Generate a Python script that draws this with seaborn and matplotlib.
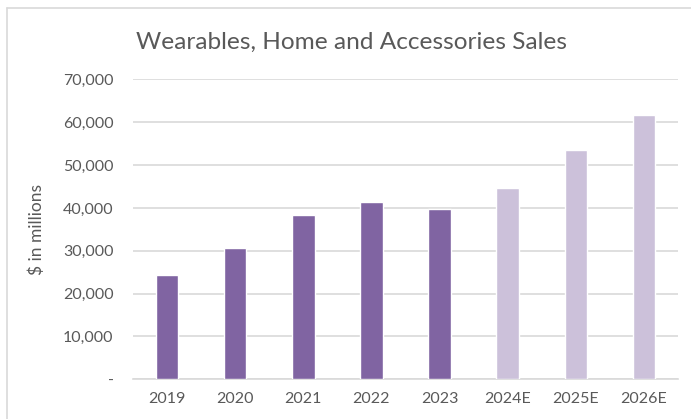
import matplotlib
matplotlib.use("Agg")
import matplotlib.pyplot as plt
import matplotlib.ticker as mticker
from matplotlib.lines import Line2D
import seaborn as sns
import pandas as pd

years = ["2019", "2020", "2021", "2022", "2023", "2024E", "2025E", "2026E"]
sales = [24400, 30700, 38300, 41400, 39800, 44700, 53600, 61800]
kind = ["Actual", "Actual", "Actual", "Actual", "Actual", "Estimate", "Estimate", "Estimate"]

sns.set_theme(style="white")
plt.rcParams["font.family"] = ["Lato", "DejaVu Sans"]

W, H = 691, 419
fig = plt.figure(figsize=(W / 100, H / 100), dpi=100)
ax = fig.add_axes([133 / W, 1 - 379.3 / H, (678 - 133) / W, (379.3 - 79.5) / H])

df = pd.DataFrame({"year": years, "sales": sales, "kind": kind})
sns.barplot(data=df, x="year", y="sales", hue="kind", dodge=False, width=0.33,
            palette={"Actual": "#8064A2", "Estimate": "#CCC1DA"}, saturation=1,
            ax=ax, legend=False, zorder=3)

ax.set_ylim(0, 70000)
ax.set_xlim(-0.5, len(years) - 0.5)
ax.yaxis.set_major_locator(mticker.MultipleLocator(10000))
ax.yaxis.set_major_formatter(mticker.FuncFormatter(lambda v, p: "-" if v == 0 else f"{v:,.0f}"))
ax.grid(axis="y", color="#D9D9D9", linewidth=1.2, zorder=0)
ax.grid(axis="x", visible=False)
for s in ["top", "right", "left"]:
    ax.spines[s].set_visible(False)
ax.spines["bottom"].set_color("#D9D9D9")
ax.spines["bottom"].set_linewidth(1.2)
ax.tick_params(axis="both", length=0, labelsize=11.5, colors="#595959")
ax.tick_params(axis="y", pad=14)
ax.tick_params(axis="x", pad=9)
ax.set_xlabel("")
ax.set_ylabel("$ in millions", fontsize=12.5, color="#595959", labelpad=10)
ax.yaxis.set_label_coords(-88 / 545, 0.5)

fig.text(352 / W, 1 - 42 / H, "Wearables, Home and Accessories Sales",
         ha="center", va="center", fontsize=17.6, color="#595959")

# chart border (top and left visible)
fig.add_artist(Line2D([7 / W, 1], [1 - 8 / H, 1 - 8 / H], color="#D9D9D9", lw=1.2))
fig.add_artist(Line2D([7 / W, 7 / W], [0, 1 - 8 / H], color="#D9D9D9", lw=1.2))

fig.savefig("out.png", dpi=100, facecolor="white")
